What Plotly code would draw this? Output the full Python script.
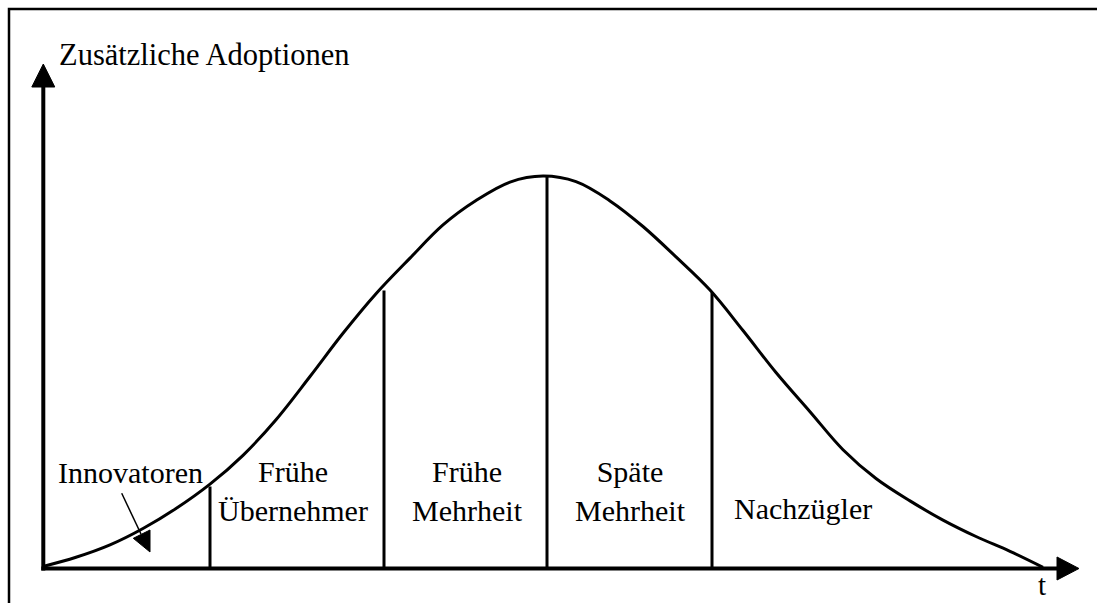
import plotly.graph_objects as go

W, H = 1097, 603

# adoption curve (time in arbitrary units, share of peak)
t_vals = [0.00, 0.33, 0.67, 1.00, 1.33, 1.67, 2.00, 2.33, 2.67, 3.00, 3.33,
          3.67, 4.00, 4.33, 4.67, 5.00, 5.33, 5.67, 6.00, 6.33, 6.67, 7.00,
          7.33, 7.67, 8.00, 8.33, 8.67, 9.00, 9.33, 9.67, 10.00]
adoptions = [0.5, 2.8, 5.9, 10.0, 15.0, 21.1, 28.3, 37.2, 48.0, 58.8, 68.7,
             77.6, 85.9, 92.0, 96.6, 98.1, 96.7, 91.9, 85.5, 77.9, 69.6, 59.5,
             49.0, 39.2, 29.7, 22.5, 16.9, 12.1, 8.0, 4.3, 0.3]

# category boundaries and the height where each divider meets the curve
boundaries = [1.67, 3.41, 5.04, 6.69]
boundary_heights = [20.5, 69.5, 98.0, 69.0]

# category labels and their centres on the time axis
categories = ['Innovatoren', 'Frühe<br>Übernehmer', 'Frühe<br>Mehrheit',
              'Späte<br>Mehrheit', 'Nachzügler']
category_centres = [0.87, 2.50, 4.24, 5.87, 7.60]
category_heights = [24.1, 19.4, 19.4, 19.4, 14.9]

y_title = 'Zusätzliche Adoptionen'
x_title = 't'

FONT = 'Liberation Serif, Times New Roman, serif'


def px(x):
    """pixel x -> paper"""
    return x / W


def py(y):
    """pixel y -> paper"""
    return 1 - y / H


def tri(points):
    """closed svg path in paper coords from pixel points"""
    p = ' L '.join(f'{px(a):.5f},{py(b):.5f}' for a, b in points)
    return 'M ' + p + ' Z'


fig = go.Figure()

fig.add_trace(go.Scatter(
    x=t_vals, y=adoptions, mode='lines',
    line={'color': 'black', 'width': 3, 'shape': 'spline', 'smoothing': 1},
    hoverinfo='skip'
))

div_x, div_y = [], []
for b, h in zip(boundaries, boundary_heights):
    div_x += [b, b, None]
    div_y += [0, h, None]
fig.add_trace(go.Scatter(
    x=div_x, y=div_y, mode='lines',
    line={'color': 'black', 'width': 3}, hoverinfo='skip'
))

for name, c, h in zip(categories, category_centres, category_heights):
    fig.add_annotation(x=c, y=h, text=name, showarrow=False,
                       xanchor='center', yanchor='middle',
                       font={'family': FONT, 'size': 30, 'color': 'black'})

shapes = [
    # outer frame
    {'type': 'rect', 'xref': 'paper', 'yref': 'paper',
     'x0': px(9), 'y0': py(9), 'x1': px(W + 20), 'y1': py(H + 20),
     'line': {'color': 'black', 'width': 2.5}},
    # axes
    {'type': 'line', 'xref': 'paper', 'yref': 'paper',
     'x0': px(43.3), 'y0': py(570.5), 'x1': px(43.3), 'y1': py(86),
     'line': {'color': 'black', 'width': 4}},
    {'type': 'line', 'xref': 'paper', 'yref': 'paper',
     'x0': px(41.3), 'y0': py(568.5), 'x1': px(1058), 'y1': py(568.5),
     'line': {'color': 'black', 'width': 4}},
    {'type': 'path', 'xref': 'paper', 'yref': 'paper',
     'path': tri([(43.3, 64), (31.8, 87), (54.8, 87)]),
     'fillcolor': 'black', 'line': {'color': 'black', 'width': 1}},
    {'type': 'path', 'xref': 'paper', 'yref': 'paper',
     'path': tri([(1079, 568.5), (1057, 557), (1057, 580)]),
     'fillcolor': 'black', 'line': {'color': 'black', 'width': 1}},
    # pointer for Innovatoren
    {'type': 'line', 'xref': 'paper', 'yref': 'paper',
     'x0': px(121.7), 'y0': py(493.3), 'x1': px(141), 'y1': py(534),
     'line': {'color': 'black', 'width': 1.5}},
    {'type': 'path', 'xref': 'paper', 'yref': 'paper',
     'path': tri([(150, 552), (133.3, 538.3), (150, 530)]),
     'fillcolor': 'black', 'line': {'color': 'black', 'width': 1}},
]

fig.add_annotation(xref='paper', yref='paper', x=px(57), y=py(55), text=y_title,
                   showarrow=False, xanchor='left', yanchor='middle',
                   font={'family': FONT, 'size': 30.5, 'color': 'black'})
fig.add_annotation(xref='paper', yref='paper', x=px(1042), y=py(585), text=x_title,
                   showarrow=False, xanchor='center', yanchor='middle',
                   font={'family': FONT, 'size': 29, 'color': 'black'})

fig.update_layout(
    width=W, height=H, autosize=False,
    margin={'l': 0, 'r': 0, 't': 0, 'b': 0},
    paper_bgcolor='white', plot_bgcolor='white',
    showlegend=False, shapes=shapes,
    xaxis={'range': [-0.43, 10.54], 'visible': False, 'fixedrange': True},
    yaxis={'range': [-8.625, 142.125], 'visible': False, 'fixedrange': True},
)

fig.write_html('out.html', config={'displayModeBar': False},
               post_script="document.body.style.margin='0px';"
                           "document.body.style.overflow='hidden';")
